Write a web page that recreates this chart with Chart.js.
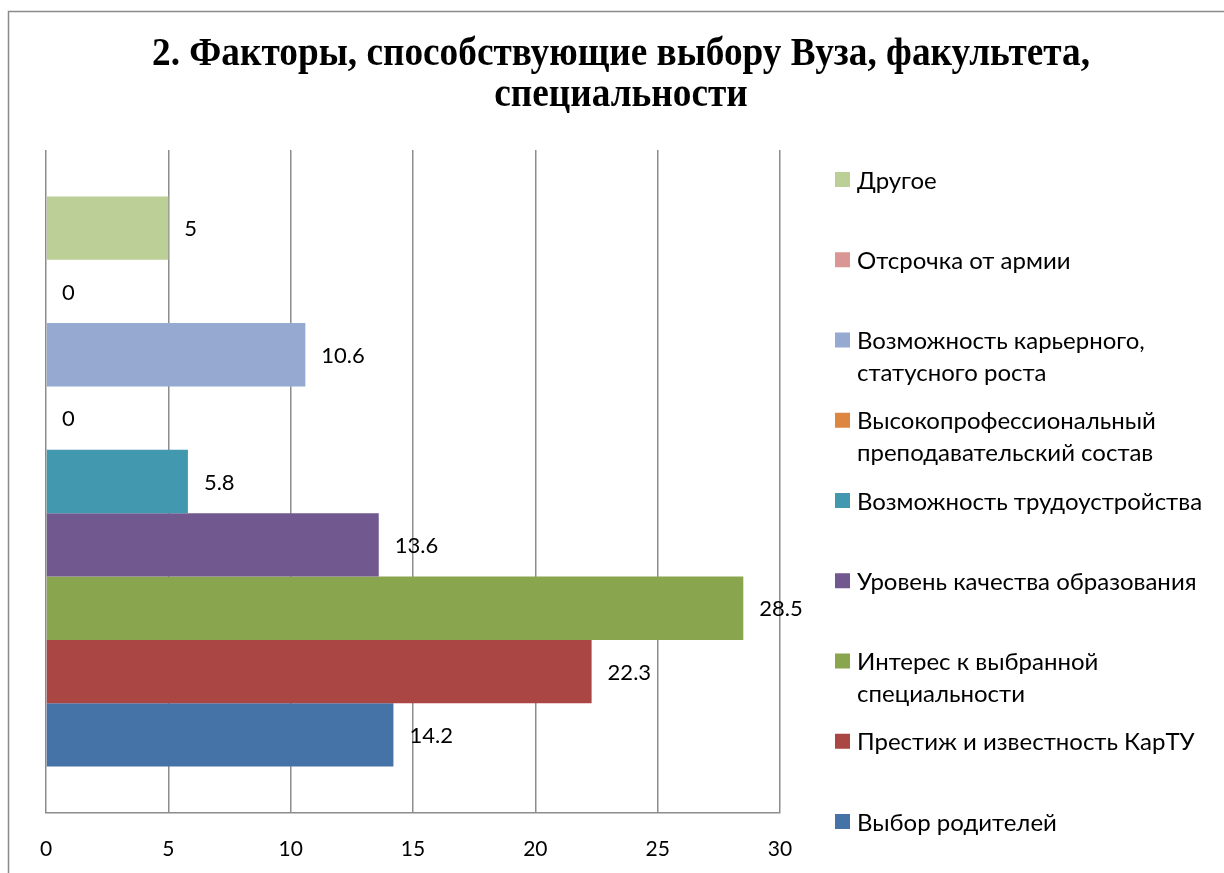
<!DOCTYPE html>
<html>
<head>
<meta charset="utf-8">
<script src="https://cdn.jsdelivr.net/npm/chart.js@4.4.1/dist/chart.umd.min.js"></script>
<style>
  html, body { margin: 0; padding: 0; background: #fff; }
  #wrap { width: 1224px; height: 873px; position: relative; }
</style>
</head>
<body>
<div id="wrap"><canvas id="c" width="1224" height="873"></canvas></div>
<script>
// ---- data ----
const titleLines = ['2. Факторы, способствующие выбору Вуза, факультета,', 'специальности'];
const categories = [''];
const seriesNames = [
  ['Другое'],
  ['Отсрочка от армии'],
  ['Возможность карьерного,', 'статусного роста'],
  ['Высокопрофессиональный', 'преподавательский состав'],
  ['Возможность трудоустройства'],
  ['Уровень качества образования'],
  ['Интерес к выбранной', 'специальности'],
  ['Престиж и известность КарТУ'],
  ['Выбор родителей']
];
const seriesValues = [5, 0, 10.6, 0, 5.8, 13.6, 28.5, 22.3, 14.2];
const seriesColors = ['#BBCF97', '#D99694', '#95A9D1', '#DD8640', '#4298AF', '#71588F', '#89A54E', '#AA4643', '#4572A7'];
const xTicks = [0, 5, 10, 15, 20, 25, 30];

const GRID = '#8C8C8C';
const FONT = 'Lato, Carlito, "Open Sans", sans-serif';

const datasets = seriesNames.map((n, i) => ({
  label: n.join(' '),
  data: [seriesValues[i]],
  backgroundColor: seriesColors[i],
  borderWidth: 0,
  categoryPercentage: 0.86,
  barPercentage: 1.0
}));

const framePlugin = {
  id: 'frame',
  beforeDraw(chart) {
    const ctx = chart.ctx;
    ctx.save();
    ctx.fillStyle = '#fff';
    ctx.fillRect(0, 0, chart.width, chart.height);
    ctx.strokeStyle = '#8A8A8A';
    ctx.lineWidth = 1.5;
    ctx.strokeRect(8.5, 11.5, chart.width + 20, chart.height + 20);
    ctx.restore();
  }
};

const titlePlugin = {
  id: 'customTitle',
  afterDraw(chart) {
    const ctx = chart.ctx;
    ctx.save();
    ctx.fillStyle = '#000';
    ctx.font = 'bold 41px "Liberation Serif", "Times New Roman", serif';
    ctx.textBaseline = 'alphabetic';
    ctx.textAlign = 'center';
    const cx = 621;
    const w0 = ctx.measureText(titleLines[0]).width;
    const sx = 938 / w0;
    const baselines = [65, 106];
    titleLines.forEach((t, i) => {
      ctx.save();
      ctx.translate(cx, baselines[i]);
      ctx.scale(sx, 1);
      ctx.fillText(t, 0, 0);
      ctx.restore();
    });
    ctx.restore();
  }
};

const labelPlugin = {
  id: 'valueLabels',
  afterDatasetsDraw(chart) {
    const ctx = chart.ctx;
    ctx.save();
    ctx.fillStyle = '#000';
    ctx.font = '22px ' + FONT;
    ctx.textAlign = 'left';
    ctx.textBaseline = 'middle';
    chart.data.datasets.forEach((ds, i) => {
      const meta = chart.getDatasetMeta(i);
      meta.data.forEach((bar, j) => {
        const v = ds.data[j];
        ctx.fillText(String(v), bar.x + 16, bar.y + 1);
      });
    });
    ctx.restore();
  }
};

const legendPlugin = {
  id: 'customLegend',
  afterDraw(chart) {
    const ctx = chart.ctx;
    const area = chart.chartArea;
    ctx.save();
    ctx.font = '24px ' + FONT;
    ctx.textAlign = 'left';
    ctx.textBaseline = 'middle';
    const x0 = area.right + 55;
    const yStart = area.top + 30;
    const yEnd = area.bottom + 9;
    const step = (yEnd - yStart) / (seriesNames.length - 1);
    seriesNames.forEach((lines, i) => {
      const y = yStart + i * step;
      ctx.fillStyle = seriesColors[i];
      ctx.fillRect(x0, y - 8, 15, 15);
      ctx.fillStyle = '#000';
      lines.forEach((ln, k) => ctx.fillText(ln, x0 + 22, y + 1 + k * 32));
    });
    ctx.restore();
  }
};

new Chart(document.getElementById('c'), {
  type: 'bar',
  data: { labels: categories, datasets },
  options: {
    indexAxis: 'y',
    responsive: false,
    animation: false,
    layout: { padding: { left: 46, right: 444, top: 150, bottom: 0 } },
    plugins: {
      legend: { display: false },
      title: { display: false },
      tooltip: { enabled: false }
    },
    scales: {
      x: {
        min: xTicks[0],
        max: xTicks[xTicks.length - 1],
        afterBuildTicks(scale) { scale.ticks = xTicks.map(v => ({ value: v })); },
        afterFit(scale) { scale.height = 60; },
        grid: { color: GRID, lineWidth: 1.5, drawTicks: false },
        border: { color: GRID, width: 1.5 },
        ticks: { color: '#000', font: { family: FONT, size: 21 }, padding: 24 }
      },
      y: {
        display: false,
        grid: { display: false }
      }
    }
  },
  plugins: [framePlugin, titlePlugin, labelPlugin, legendPlugin]
});
</script>
</body>
</html>
